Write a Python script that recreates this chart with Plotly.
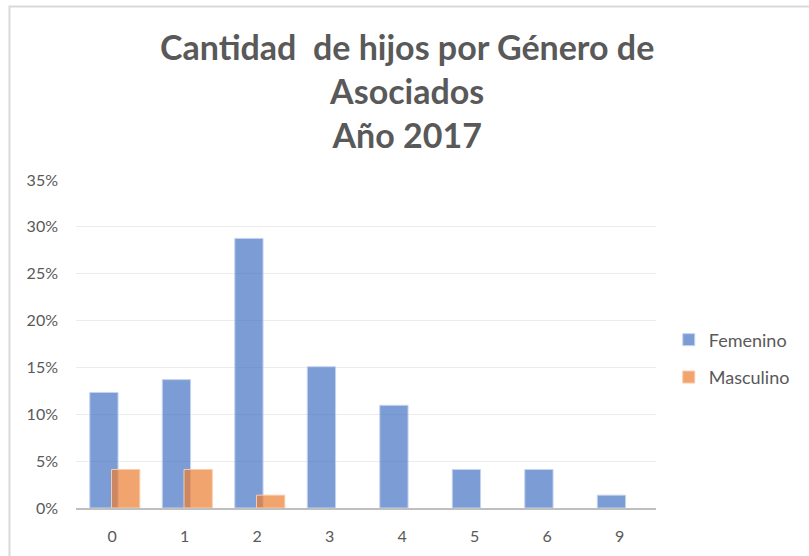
import plotly.graph_objects as go

hijos = ["0", "1", "2", "3", "4", "5", "6", "9"]
femenino = [0.1233, 0.137, 0.2877, 0.1507, 0.1096, 0.0411, 0.0411, 0.0137]
masculino_cats = ["0", "1", "2"]
masculino = [0.0411, 0.0411, 0.0137]

fig = go.Figure()
fig.add_trace(go.Bar(
    name="Femenino", x=hijos, y=femenino,
    width=0.39, offset=-0.31,
    marker=dict(color="rgba(68,114,196,0.7)", line=dict(color="#C5D3EE", width=1)),
    legendgroup="f",
))
fig.add_trace(go.Bar(
    name="Masculino", x=masculino_cats, y=masculino,
    width=0.39, offset=-0.01,
    marker=dict(color="rgba(237,125,49,0.7)", line=dict(color="#F8CBAD", width=1)),
    legendgroup="m",
))

fig.update_layout(
    width=809, height=556,
    barmode="overlay",
    paper_bgcolor="white", plot_bgcolor="white",
    margin=dict(l=76, r=153, t=180, b=48, autoexpand=False),
    font=dict(family="Lato", color="#595959", size=16),
    xaxis=dict(
        type="category", categoryorder="array", categoryarray=hijos,
        showline=True, linecolor="#BFBFBF", linewidth=2,
        showgrid=False, ticks="", tickfont=dict(size=16), ticklabelstandoff=13,
    ),
    yaxis=dict(
        range=[0, 0.35], dtick=0.05, tickformat=".0%",
        showgrid=True, gridcolor="#EBEBEB", gridwidth=1,
        zeroline=False, showline=False, ticks="", ticklabelstandoff=17,
    ),
    legend=dict(
        x=1.022, xanchor="left", y=0.456, yanchor="middle",
        traceorder="grouped", tracegroupgap=11,
        font=dict(size=18, color="#595959"),
    ),
    annotations=[dict(
        text="<b>Cantidad&nbsp; de hijos por Género de<br>Asociados<br>Año 2017</b>",
        xref="paper", yref="paper", x=0.571, y=1.274,
        xanchor="center", yanchor="middle", showarrow=False,
        font=dict(family="Lato", size=34, color="#595959"),
    )],
    shapes=[dict(
        type="rect", xref="paper", yref="paper",
        x0=-0.1147, x1=1.5, y0=-0.3, y1=1.529,
        line=dict(color="#D9D9D9", width=2),
    )],
)

fig.write_html("out.html", config={"displayModeBar": False},
               post_script="document.body.style.margin='0';")
